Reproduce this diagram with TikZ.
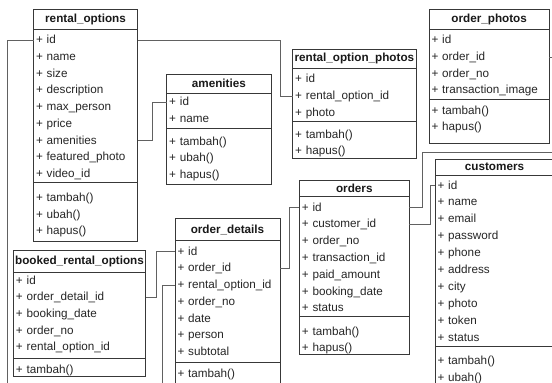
\documentclass[tikz,border=0pt]{standalone}
\usepackage{fontspec}
\setmainfont{Liberation Sans}
\tikzset{
  boxline/.style={draw=black!78, line width=0.8pt},
  conn/.style={draw=black!62, line width=0.8pt},
  titletext/.style={font=\fontsize{11.7}{13}\selectfont\bfseries, text=black!90, inner sep=0pt, outer sep=0pt},
  rowtext/.style={font=\fontsize{11.7}{13}\selectfont, text=black!85, anchor=west, align=left,
    inner xsep=2.5pt, inner ysep=0pt, outer sep=0pt, text height=9pt, text depth=2pt}
}
\newcommand{\umlclass}[8]{%
  \fill[white] (#2,#4) rectangle (#3,#7);
  \node[titletext] (#1) at ({(#2+#3)/2},{(#4+#5)/2}) {#8};
  \draw[boxline] (#2,#4) rectangle (#3,#7);
  \draw[boxline] (#2,#5) -- (#3,#5);
  \draw[boxline] (#2,#6) -- (#3,#6);
}
\newcommand{\umlrows}[6]{%
  \pgfmathsetmacro\umlw{#3-#2-5}%
  \foreach \txt [count=\i] in {#6}{
    \node[rowtext, text width=\umlw pt] (#1\i) at ({#2},{#4+(\i-1)*#5}) {\txt};
  }
}
\begin{document}
\begin{tikzpicture}[x=1pt,y=-1pt]
\useasboundingbox (0,0) rectangle (552,383);
\fill[white] (0,0) rectangle (552,383);
\clip (0,0) rectangle (552,383);

% rental_options
\umlclass{ro}{33.5}{137.5}{9.3}{29.3}{182.7}{241}{rental\_options}
\umlrows{ro-a}{33.5}{137.5}{40}{16.75}{+ id,+ name,+ size,+ description,+ max\_person,+ price,+ amenities,+ featured\_photo,+ video\_id}
\umlrows{ro-m}{33.5}{137.5}{198}{16.5}{+ tambah(),+ ubah(),+ hapus()}

% amenities
\umlclass{am}{166.7}{271}{74.3}{93.3}{128.3}{184}{amenities}
\umlrows{am-a}{166.7}{271}{102}{16.75}{+ id,+ name}
\umlrows{am-m}{166.7}{271}{141.5}{16.75}{+ tambah(),+ ubah(),+ hapus()}

% rental_option_photos
\umlclass{rop}{292.7}{416}{49.5}{68.3}{121}{158.3}{rental\_option\_photos}
\umlrows{rop-a}{292.7}{416}{79.3}{16.6}{+ id,+ rental\_option\_id,+ photo}
\umlrows{rop-m}{292.7}{416}{135}{16}{+ tambah(),+ hapus()}

% order_photos
\umlclass{op}{429}{549.3}{9.3}{29.3}{99}{143.3}{order\_photos}
\umlrows{op-a}{429}{549.3}{40.3}{16.6}{+ id,+ order\_id,+ order\_no,+ transaction\_image}
\umlrows{op-m}{429}{549.3}{110.5}{16.6}{+ tambah(),+ hapus()}

% customers
\umlclass{cu}{435}{554}{159.3}{175}{346.7}{400}{customers}
\umlrows{cu-a}{435}{554}{185.5}{16.95}{+ id,+ name,+ email,+ password,+ phone,+ address,+ city,+ photo,+ token,+ status}
\umlrows{cu-m}{435}{554}{360.5}{17}{+ tambah(),+ ubah()}

% orders
\umlclass{or}{299.3}{409.3}{180}{196.7}{316.7}{354.3}{orders}
\umlrows{or-a}{299.3}{409.3}{207.7}{16.77}{+ id,+ customer\_id,+ order\_no,+ transaction\_id,+ paid\_amount,+ booking\_date,+ status}
\umlrows{or-m}{299.3}{409.3}{331.7}{16.77}{+ tambah(),+ hapus()}

% order_details
\umlclass{od}{175}{280}{218.3}{240.7}{362.5}{400}{order\_details}
\umlrows{od-a}{175}{280}{251.7}{16.75}{+ id,+ order\_id,+ rental\_option\_id,+ order\_no,+ date,+ person,+ subtotal}
\umlrows{od-m}{175}{280}{374}{16.75}{+ tambah()}

% booked_rental_options
\umlclass{br}{13.5}{145.5}{250.7}{272.5}{358.3}{376}{booked\_rental\_options}
\umlrows{br-a}{13.5}{145.5}{280.5}{16.7}{+ id,+ order\_detail\_id,+ booking\_date,+ order\_no,+ rental\_option\_id}
\umlrows{br-m}{13.5}{145.5}{370}{16.7}{+ tambah()}

% connector routing points
\coordinate (cA) at (7.5,400);
\coordinate (cB) at (280,0);
\coordinate (cC) at (152.3,0);
\coordinate (cD) at (560,152);
\coordinate (cE) at (422.5,0);
\coordinate (cF) at (430,0);
\coordinate (cG) at (289.3,0);
\coordinate (cH) at (156.7,0);
\coordinate (cI) at (162.7,400);

\draw[conn] (ro-a1.west) -| (cA);
\draw[conn] (ro-a1.east) -- (ro-a1.east -| cB) |- (rop-a2.west);
\draw[conn] (ro-a7.east) -- (ro-a7.east -| cC) |- (am-a1.west);
\draw[conn] (op-a2.east) -| (cD) -- (cD -| cE) |- (or-a1.east);
\draw[conn] (or-a2.east) -- (or-a2.east -| cF) |- (cu-a1.west);
\draw[conn] (od-a2.east) -- (od-a2.east -| cG) |- (or-a1.west);
\draw[conn] (br-a2.east) -- (br-a2.east -| cH) |- (od-a1.west);
\draw[conn] (od-a3.west) -| (cI);
\end{tikzpicture}
\end{document}
